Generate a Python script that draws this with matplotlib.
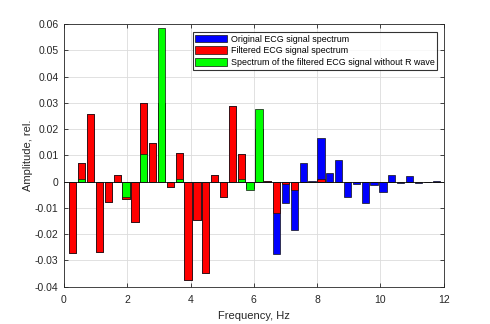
import matplotlib
matplotlib.use('Agg')
import matplotlib.pyplot as plt

freq = [0.28, 0.56, 0.84, 1.12, 1.40, 1.68, 1.96, 2.24, 2.52, 2.80,
        3.08, 3.36, 3.64, 3.92, 4.20, 4.48, 4.76, 5.04, 5.32, 5.60,
        5.88, 6.16, 6.44, 6.72, 7.00, 7.28, 7.56, 7.84, 8.12, 8.40,
        8.68, 8.96, 9.24, 9.52, 9.80, 10.08, 10.36, 10.64, 10.92, 11.20,
        11.48, 11.76]

# filtered spectrum (red)
filtered = [-0.0273, 0.0072, 0.0256, -0.0266, -0.0077, 0.0024, -0.0067, -0.0152, 0.0298, 0.0148,
            0.0300, -0.0020, 0.0108, -0.0374, -0.0146, -0.0346, 0.0027, -0.0057, 0.0286, 0.0104,
            -0.0025, 0.0200, 0.0003, -0.0118, -0.0010, -0.0032, 0.0, 0.0, 0.0010, 0.0,
            0.0, 0.0, 0.0, 0.0, 0.0, 0.0, 0.0, 0.0, 0.0, 0.0,
            0.0, 0.0]

# original spectrum (blue), mostly hidden under red at low frequencies
original = filtered[:23] + [-0.0277, -0.0082, -0.0184, 0.0070, 0.0004, 0.0167, 0.0033,
                            0.0084, -0.0057, -0.0010, -0.0080, -0.0013, -0.0039, 0.0024, -0.0005,
                            0.0022, -0.0004, 0.0, 0.0003]

# filtered spectrum without R wave (green)
no_r = [0.0, 0.0011, 0.0, 0.0, 0.0, 0.0, -0.0057, 0.0, 0.0104, 0.0,
        0.0586, 0.0, 0.0010, 0.0, 0.0, 0.0, 0.0, 0.0, 0.0, 0.0010,
        -0.0032, 0.0275, 0.0, 0.0, 0.0, 0.0, 0.0, 0.0, 0.0, 0.0,
        0.0, 0.0, 0.0, 0.0, 0.0, 0.0, 0.0, 0.0, 0.0, 0.0,
        0.0, 0.0]

labels = ['Original ECG signal spectrum', 'Filtered ECG signal spectrum',
          'Spectrum of the filtered ECG signal without R wave']

plt.rcParams['font.family'] = ['Liberation Sans', 'DejaVu Sans']
axcol = '#262626'

fig = plt.figure(figsize=(4.9, 3.24), dpi=100)
ax = fig.add_axes([0.1306, 0.115, 0.775, 0.811])

w = 0.23
ax.bar(freq, original, width=w, color='#0000ff', edgecolor='#111111', linewidth=0.5, label=labels[0], zorder=2)
ax.bar(freq, filtered, width=w, color='#ff0000', edgecolor='#111111', linewidth=0.5, label=labels[1], zorder=3)
ax.bar(freq, no_r, width=w, color='#00ff00', edgecolor='#111111', linewidth=0.5, label=labels[2], zorder=4)
ax.axhline(0, color='#111111', linewidth=0.6, zorder=5)

ax.set_xlim(0, 12)
ax.set_ylim(-0.04, 0.06)
ax.set_xticks(range(0, 13, 2))
yt = [-0.04, -0.03, -0.02, -0.01, 0, 0.01, 0.02, 0.03, 0.04, 0.05, 0.06]
ax.set_yticks(yt)
ax.set_yticklabels(['-0.04', '-0.03', '-0.02', '-0.01', '0', '0.01', '0.02', '0.03', '0.04', '0.05', '0.06'])
ax.grid(True, color='#dcdcdc', linewidth=0.6, zorder=0)
ax.set_axisbelow(True)
ax.tick_params(direction='in', length=3, width=0.6, top=True, right=True,
               labelsize=7.5, colors=axcol)
ax.tick_params(axis='x', pad=6)
ax.tick_params(axis='y', pad=4)
for s in ax.spines.values():
    s.set_color(axcol)
    s.set_linewidth(0.6)

ax.set_xlabel('Frequency, Hz', fontsize=8, color=axcol, labelpad=4)
ax.set_ylabel('Amplitude, rel.', fontsize=8, color=axcol, labelpad=1)

leg = ax.legend(loc='upper right', bbox_to_anchor=(0.983, 0.97), fontsize=6.4, frameon=True,
                fancybox=False, handlelength=3.6, handleheight=1.0, handletextpad=0.4,
                borderpad=0.3, labelspacing=0.3, borderaxespad=0)
leg.get_frame().set_edgecolor('#000000')
leg.get_frame().set_linewidth(0.8)

fig.savefig('out.png', dpi=100)
